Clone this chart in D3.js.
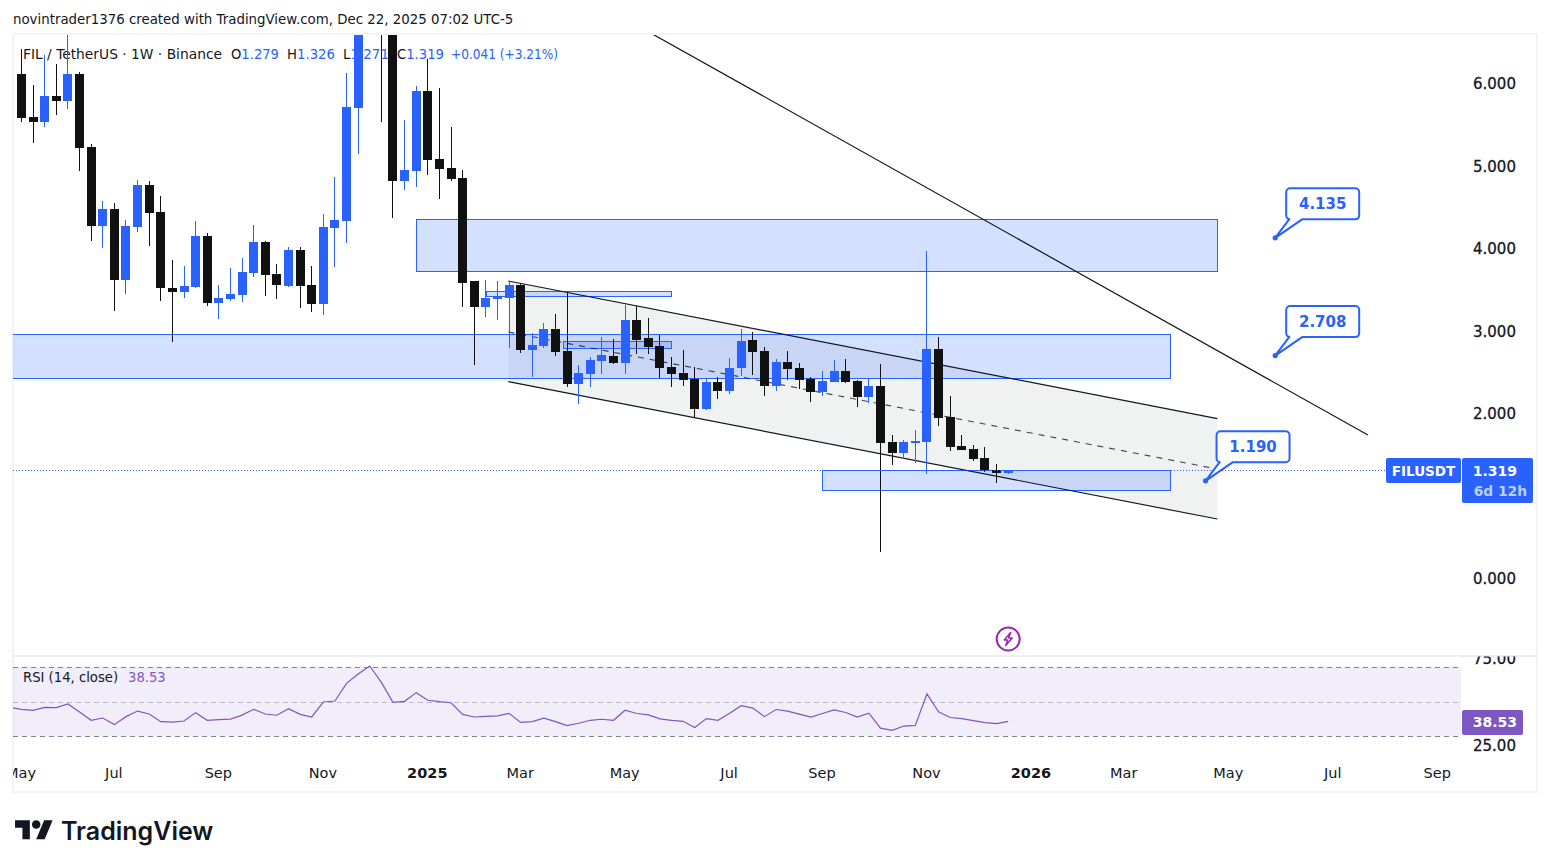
<!DOCTYPE html>
<html>
<head>
<meta charset="utf-8">
<title>FILUSDT weekly</title>
<script src="https://cdn.jsdelivr.net/npm/d3@7/dist/d3.min.js"></script>
<style>
  html, body { margin: 0; padding: 0; background: #fff; }
  svg { display: block; }
  text { font-family: "DejaVu Sans", sans-serif; }
</style>
</head>
<body>
<svg id="chart" width="1551" height="868"></svg>
<script>
// Weekly candles, oldest first. The run from week 29 to week 32 sits above the visible range.
const opens = [6.121,5.600,5.539,5.855,5.794,6.121,5.236,4.279,4.485,3.624,4.267,4.776,4.448,3.527,3.479,3.539,4.158,3.345,3.394,3.442,3.709,4.085,3.697,3.552,3.988,3.564,3.333,4.255,4.339,5.709,6.900,7.400,6.700,4.824,4.945,5.915,5.091,4.982,4.861,3.612,3.297,3.394,3.406,3.564,2.776,2.824,3.030,2.764,2.364,2.485,2.642,2.703,2.618,3.139,2.921,2.824,2.570,2.497,2.424,2.061,2.388,2.279,2.558,2.897,2.764,2.339,2.630,2.558,2.424,2.267,2.388,2.521,2.400,2.206,2.339,1.661,1.527,1.648,1.661,2.788,1.964,1.612,1.576,1.467,1.321,1.279];
const highs = [6.424,5.988,6.352,6.242,6.750,6.145,5.273,4.582,4.558,4.352,4.836,4.824,4.642,3.867,3.794,4.339,4.194,3.564,3.770,3.891,4.291,4.097,3.818,4.024,4.024,3.794,4.424,4.873,6.133,7.200,8.200,7.600,7.000,5.564,5.976,6.303,5.952,5.479,4.958,3.612,3.624,3.612,3.600,3.588,2.982,3.103,3.212,3.467,2.594,2.691,2.933,2.909,3.321,3.309,3.164,2.958,2.691,2.776,2.570,2.424,2.448,2.679,3.030,2.994,2.812,2.667,2.764,2.618,2.448,2.521,2.655,2.667,2.412,2.424,2.606,1.745,1.685,1.806,3.976,2.933,2.218,1.745,1.624,1.600,1.394,1.326];
const lows = [5.539,5.285,5.479,5.624,5.697,4.945,4.097,4.012,3.248,3.455,4.206,4.036,3.370,2.873,3.406,3.527,3.309,3.152,3.370,3.358,3.661,3.430,3.394,3.539,3.285,3.236,3.200,3.782,4.073,5.152,6.700,5.539,4.376,4.715,4.752,4.897,4.606,4.824,3.297,2.594,3.176,3.139,2.800,2.739,2.448,2.800,2.703,2.327,2.121,2.327,2.485,2.606,2.485,2.727,2.727,2.436,2.327,2.339,1.964,2.048,2.182,2.242,2.461,2.473,2.218,2.279,2.412,2.303,2.145,2.218,2.388,2.376,2.085,2.133,0.327,1.382,1.455,1.406,1.273,1.855,1.552,1.564,1.430,1.297,1.164,1.271];
const closes = [5.588,5.539,5.855,5.794,6.121,5.224,4.279,4.485,3.624,4.279,4.776,4.436,3.527,3.479,3.552,4.158,3.345,3.406,3.455,3.721,4.085,3.685,3.564,3.988,3.552,3.333,4.267,4.352,5.721,6.900,7.400,6.700,4.824,4.958,5.915,5.079,4.970,4.848,3.588,3.297,3.406,3.430,3.564,2.776,2.836,3.030,2.752,2.364,2.497,2.655,2.715,2.618,3.139,2.897,2.812,2.558,2.485,2.412,2.061,2.388,2.279,2.558,2.885,2.752,2.339,2.630,2.545,2.412,2.267,2.400,2.521,2.388,2.206,2.339,1.648,1.527,1.661,1.673,2.788,1.952,1.600,1.564,1.455,1.321,1.279,1.319];

// RSI(14) readings; the first one belongs to the week just left of the pane.
const rsiFirstWeek = -1;
const rsiValues = [46.6,45.5,44.9,46.6,46.5,48.6,44.0,39.2,40.5,36.7,41.3,44.5,42.8,38.4,38.2,38.8,43.6,39.2,39.6,39.9,42.2,45.5,42.8,42.1,45.9,42.6,41.1,49.7,50.3,60.4,65.8,70.4,61.0,49.5,50.1,55.1,50.7,49.9,49.3,42.6,41.1,41.5,41.7,43.2,38.0,38.4,40.4,38.4,36.1,37.5,39.2,39.8,39.2,45.0,43.1,42.3,40.0,39.2,38.6,35.1,40.2,39.2,43.3,47.6,46.2,41.3,45.4,44.5,42.7,41.0,43.1,45.2,43.7,41.0,43.3,34.7,33.4,35.9,36.3,54.4,44.1,40.8,40.2,39.0,37.9,37.3,38.53];

const priceTicks = [0, 2, 3, 4, 5, 6];
const rsiTicks = [25, 75];
const timeTickWeeks = [0, 8, 17, 26, 35, 43, 52, 61, 69, 78, 87, 95, 104, 113, 122];
const timeTickLabels = ["May","Jul","Sep","Nov","2025","Mar","May","Jul","Sep","Nov","2026","Mar","May","Jul","Sep"];

// Hand-drawn zones: [week start, week end, upper price, lower price]
const zones = [
  [34.0, 103.02, 4.358, 3.727],
  [-2, 99.0, 2.958, 2.436],
  [69.0, 99.0, 1.315, 1.067],
  [40.04, 56.03, 3.484, 3.430],
  [46.7, 56.03, 2.873, 2.800]
];
// Falling channel, [week, price] at each end of its three rails
const channelTop = [[41.94, 3.612], [103.02, 1.945]];
const channelMid = [[41.94, 2.994], [103.02, 1.333]];
const channelLow = [[41.94, 2.392], [103.02, 0.727]];
const trendline = [[54.35, 6.606], [115.99, 1.745]];
// Target callouts: [anchor week, price]
const targets = [[102, 1.190], [108, 2.708], [108, 4.135]];

// Legend readings, each placed at its own column
const legendItems = [
  { left: 23, label: "FIL / TetherUS · 1W · Binance", value: "", span: 199 },
  { left: 231, label: "O", value: "1.279", span: 48 },
  { left: 287, label: "H", value: "1.326", span: 48 },
  { left: 343, label: "L", value: "1.271", span: 46 },
  { left: 397, label: "C", value: "1.319", span: 47 },
  { left: 451, label: "", value: "+0.041 (+3.21%)", span: 107 }
];

const lastClose = 1.319;
const lastRsi = 38.53;

// Palette
const BLUE = "#2962ff", BLACK = "#111111", INK = "#131722", PURPLE = "#7e57c2";
const PANE = { left: 13, right: 1461, top: 35, split: 656, bottom: 792, outer: 1537 };

const svg = d3.select("#chart");
const x = d3.scaleLinear().domain([0, 85]).range([21.5, 1008.2]);
const y = d3.scaleLinear().domain([0, 6]).range([579, 84]);
const yRsi = d3.scaleLinear().domain([25, 75]).range([745, 658]);

const defs = svg.append("defs");
const clip = (id, cx, cy, w, h) => defs.append("clipPath").attr("id", id).append("rect")
  .attr("x", cx).attr("y", cy).attr("width", w).attr("height", h);
clip("mainClip", PANE.left, PANE.top, PANE.right - PANE.left, PANE.split - PANE.top);
clip("rsiClip", PANE.left, PANE.split, PANE.right - PANE.left, PANE.bottom - PANE.split);
clip("timeClip", PANE.left, PANE.split, PANE.outer - PANE.left, PANE.bottom - PANE.split);

// Header line
svg.append("text").attr("x", 13).attr("y", 24)
  .attr("font-size", 13.35).attr("fill", INK)
  .text("novintrader1376 created with TradingView.com, Dec 22, 2025 07:02 UTC-5");

// Outer frame and the divider above the RSI pane
svg.append("rect").attr("x", 13).attr("y", 34).attr("width", PANE.outer - 13).attr("height", PANE.bottom - 34)
  .attr("fill", "none").attr("stroke", "#f3f3f5").attr("stroke-width", 2);
svg.append("line").attr("x1", 13).attr("x2", PANE.outer).attr("y1", PANE.split).attr("y2", PANE.split)
  .attr("stroke", "#e0e3eb");

// Legend sits beneath the candles
const legendRow = svg.append("g");
legendItems.forEach(item => {
  const t = legendRow.append("text").attr("x", item.left).attr("y", 59).attr("font-size", 13.6)
    .attr("textLength", item.span).attr("lengthAdjust", "spacingAndGlyphs");
  if (item.label) t.append("tspan").attr("fill", INK).text(item.label);
  if (item.value) t.append("tspan").attr("fill", BLUE).text(item.value);
});

const main = svg.append("g").attr("clip-path", "url(#mainClip)");

// Channel fill, zones and rails
const line = d3.line().x(d => x(d[0])).y(d => y(d[1]));
main.append("path")
  .attr("d", line([channelTop[0], channelTop[1], channelLow[1], channelLow[0]]) + "Z")
  .attr("fill", "#6f8080").attr("fill-opacity", 0.1);

main.selectAll("rect.zone").data(zones).join("rect").attr("class", "zone")
  .attr("x", d => x(d[0])).attr("width", d => x(d[1]) - x(d[0]))
  .attr("y", d => y(d[2])).attr("height", d => y(d[3]) - y(d[2]))
  .attr("fill", BLUE).attr("fill-opacity", 0.2).attr("stroke", BLUE).attr("stroke-width", 1)
  .attr("shape-rendering", "crispEdges");

[channelTop, channelLow, trendline].forEach(p => main.append("path").attr("d", line(p))
  .attr("fill", "none").attr("stroke", INK).attr("stroke-width", 1.2));
main.append("path").attr("d", line(channelMid)).attr("fill", "none")
  .attr("stroke", INK).attr("stroke-opacity", 0.8).attr("stroke-dasharray", "6 6").attr("stroke-width", 1.1);

// Candles
const weeks = d3.range(opens.length);
const colorOf = i => closes[i] >= opens[i] ? BLUE : BLACK;
const candles = main.append("g").attr("shape-rendering", "crispEdges");
candles.selectAll("line").data(weeks).join("line")
  .attr("x1", i => Math.floor(x(i)) + 0.5).attr("x2", i => Math.floor(x(i)) + 0.5)
  .attr("y1", i => y(highs[i])).attr("y2", i => y(lows[i]))
  .attr("stroke", colorOf).attr("stroke-width", 1);
candles.selectAll("rect").data(weeks).join("rect")
  .attr("x", i => Math.floor(x(i)) - 4).attr("width", 9)
  .attr("y", i => y(Math.max(opens[i], closes[i])))
  .attr("height", i => Math.max(1, Math.abs(y(opens[i]) - y(closes[i]))))
  .attr("fill", colorOf);

// Last price guide
main.append("line").attr("x1", PANE.left).attr("x2", PANE.right)
  .attr("y1", Math.round(y(lastClose)) + 0.5).attr("y2", Math.round(y(lastClose)) + 0.5)
  .attr("stroke", BLUE).attr("stroke-dasharray", "1 2").attr("stroke-width", 1);

// Callouts with their speech-bubble tails
const calloutFmt = d3.format(".3f");
targets.forEach(([wk, price]) => {
  const ax = x(wk), ay = y(price);
  const l = ax + 11, r = l + 73, b = ay - 18.5, t = b - 31, R = 4;
  const path = d3.path();
  path.moveTo(l + R, t); path.lineTo(r - R, t); path.arcTo(r, t, r, t + R, R);
  path.lineTo(r, b - R); path.arcTo(r, b, r - R, b, R);
  path.lineTo(l + 16, b); path.lineTo(ax, ay); path.lineTo(l + 3, b); path.lineTo(l + R, b);
  path.arcTo(l, b, l, b - R, R); path.lineTo(l, t + R); path.arcTo(l, t, l + R, t, R); path.closePath();
  main.append("path").attr("d", path.toString()).attr("fill", "#fff").attr("stroke", BLUE).attr("stroke-width", 2);
  main.append("circle").attr("cx", ax).attr("cy", ay).attr("r", 2.6).attr("fill", BLUE);
  main.append("text").attr("x", (l + r) / 2).attr("y", (t + b) / 2 + 5.5).attr("text-anchor", "middle")
    .attr("font-size", 15).attr("font-weight", 700).attr("fill", BLUE).text(calloutFmt(price));
});

// Lightning marker on the latest week
const bolt = svg.append("g").attr("transform", `translate(${x(85)},639)`);
bolt.append("circle").attr("r", 11.5).attr("fill", "#fff").attr("stroke", "#9c27b0").attr("stroke-width", 2);
bolt.append("path").attr("d", "M2.5,-6.5 L-4,1 L-0.5,1 L-2.5,6.5 L4,-1 L0.5,-1 Z")
  .attr("fill", "none").attr("stroke", "#9c27b0").attr("stroke-width", 1.5).attr("stroke-linejoin", "round");

// RSI pane
const rsiBand = svg.append("g");
rsiBand.append("rect").attr("x", PANE.left).attr("width", PANE.right - PANE.left)
  .attr("y", yRsi(70)).attr("height", yRsi(30) - yRsi(70)).attr("fill", PURPLE).attr("fill-opacity", 0.1);
[[70, 0.95], [50, 0.45], [30, 0.95]].forEach(([v, o]) =>
  rsiBand.append("line").attr("x1", PANE.left).attr("x2", PANE.right)
    .attr("y1", Math.round(yRsi(v)) + 0.5).attr("y2", Math.round(yRsi(v)) + 0.5)
    .attr("stroke", "#787b86").attr("stroke-opacity", o).attr("stroke-dasharray", "5 4"));
const rsiLine = d3.line().x((d, i) => x(rsiFirstWeek + i)).y(d => yRsi(d));
svg.append("path").attr("clip-path", "url(#rsiClip)").attr("d", rsiLine(rsiValues))
  .attr("fill", "none").attr("stroke", PURPLE).attr("stroke-width", 1.2);
svg.append("text").attr("x", 23).attr("y", 682).attr("font-size", 13.2).attr("fill", INK).text("RSI (14, close)");
svg.append("text").attr("x", 128).attr("y", 682).attr("font-size", 13.2).attr("fill", PURPLE).text(lastRsi.toFixed(2));

// Axes
function styleAxis(g, size, weight, nudge, stroke) {
  g.select(".domain").remove();
  g.selectAll("line").remove();
  g.selectAll("text").attr("font-size", size).attr("font-weight", weight)
    .attr("font-family", '"DejaVu Sans", sans-serif').attr("fill", INK);
  if (stroke) g.selectAll("text").attr("y", nudge).attr("stroke", INK).attr("stroke-width", 0.3);
}
svg.append("g").attr("transform", "translate(1470,0)")
  .call(d3.axisRight(y).tickValues(priceTicks).tickSize(0).tickPadding(3).tickFormat(d3.format(".3f")))
  .call(styleAxis, 15, 400, 0, true);
svg.append("g").attr("transform", "translate(1470,0)")
  .call(d3.axisRight(yRsi).tickValues(rsiTicks).tickSize(0).tickPadding(3).tickFormat(d3.format(".2f")))
  .call(styleAxis, 15, 400, 1, true);
// The top RSI label is cut by the pane divider
svg.append("rect").attr("x", PANE.right).attr("y", PANE.split - 14).attr("width", 70).attr("height", 14).attr("fill", "#fff");
svg.append("line").attr("x1", PANE.right).attr("x2", PANE.outer).attr("y1", PANE.split).attr("y2", PANE.split).attr("stroke", "#e0e3eb");

const timeAxis = svg.append("g").attr("clip-path", "url(#timeClip)").append("g").attr("transform", "translate(-1,765)")
  .call(d3.axisBottom(x).tickValues(timeTickWeeks).tickSize(0).tickPadding(3)
    .tickFormat(d => timeTickLabels[timeTickWeeks.indexOf(d)]))
  .call(styleAxis, 14.5, 400, 0, false);
timeAxis.selectAll("text").filter(function () { return /^20/.test(d3.select(this).text()); }).attr("font-weight", 700);

// Price tags on the scale
const tag = (px, py, w, h, fill) => svg.append("rect").attr("x", px).attr("y", py).attr("width", w).attr("height", h).attr("rx", 2).attr("fill", fill);
tag(1386, 458, 75, 25, BLUE);
tag(1462, 458, 71, 45, BLUE);
const tagText = (px, py, str, anchor, col, size) => svg.append("text").attr("x", px).attr("y", py).attr("text-anchor", anchor)
  .attr("font-size", size).attr("font-weight", 700).attr("fill", col).text(str);
tagText(1423.5, 475.5, "FILUSDT", "middle", "#fff", 13.5);
tagText(1517, 475.5, lastClose.toFixed(3), "end", "#fff", 14);
tagText(1527, 495.5, "6d 12h", "end", "#bcd0ff", 13.8);
tag(1462, 710, 61, 25, PURPLE);
tagText(1517, 727, lastRsi.toFixed(2), "end", "#fff", 14);

// Wordmark
const logo = svg.append("g").attr("transform", "translate(15,816) scale(1.06)").attr("fill", INK);
logo.append("path").attr("d", "M14 22H7V11H0V4h14v18zM28 22h-8l7.5-18h8L28 22z");
logo.append("circle").attr("cx", 20).attr("cy", 8).attr("r", 4);
svg.append("text").attr("x", 61).attr("y", 840).attr("font-size", 25).attr("font-weight", 600)
  .attr("fill", INK).style("font-family", "Inter, sans-serif").text("TradingView");
</script>
</body>
</html>
